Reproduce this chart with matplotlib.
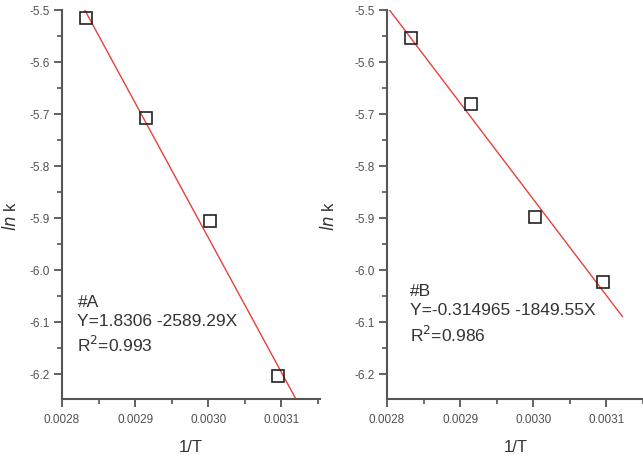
import matplotlib
matplotlib.use("Agg")
import matplotlib.pyplot as plt
from matplotlib.ticker import MultipleLocator, FixedLocator
import numpy as np

plt.rcParams['font.family'] = ['Liberation Sans', 'DejaVu Sans']

# Data
inv_T = [0.002833, 0.002915, 0.003003, 0.003096]
lnk_A = [-5.515, -5.708, -5.906, -6.204]
lnk_B = [-5.554, -5.681, -5.898, -6.023]
fit_A = (1.8306, -2589.29)
fit_B = (-0.314965, -1849.55)
labels = ["#A\nY=1.8306 -2589.29X\nR$^2$=0.993",
          "#B\nY=-0.314965 -1849.55X\nR$^2$=0.986"]
x_ticks = [0.0028, 0.0029, 0.0030, 0.0031]
x_tick_labels = ["0.0028", "0.0029", "0.0030", "0.0031"]
y_ticks = [-5.5, -5.6, -5.7, -5.8, -5.9, -6.0, -6.1, -6.2]
fit_range = (0.00279, 0.003122)

W, H = 643, 458
fig = plt.figure(figsize=(W/100, H/100), dpi=100)

panels = [
    (62, lnk_A, fit_A, labels[0], 10, (0.06, 0.267)),
    (387, lnk_B, fit_B, labels[1], 328, (0.09, 0.295)),
]
for left_px, ys, (b0, b1), lab, ylab_px, tpos in panels:
    ax = fig.add_axes([left_px/W, 1-399/H, 258/W, (399-10)/H])
    xf = np.array(fit_range)
    ax.plot(xf, b0 + b1*xf, color='#e8403a', lw=1.0, zorder=2)
    ax.plot(inv_T, ys, linestyle='none', marker='s', markersize=9,
            markerfacecolor='none', markeredgecolor='#222222', markeredgewidth=1.2, zorder=3)
    ax.set_xlim(0.0028, 0.003153)
    ax.set_ylim(-6.248, -5.5)
    for s in ['top', 'right']:
        ax.spines[s].set_visible(False)
    for s in ['left', 'bottom']:
        ax.spines[s].set_color('#555555')
        ax.spines[s].set_linewidth(1.5)
    ax.xaxis.set_major_locator(FixedLocator(x_ticks))
    ax.set_xticklabels(x_tick_labels)
    ax.xaxis.set_minor_locator(MultipleLocator(0.00005))
    ax.yaxis.set_major_locator(FixedLocator(y_ticks))
    ax.set_yticklabels([f"{v:.1f}" for v in y_ticks])
    ax.yaxis.set_minor_locator(MultipleLocator(0.05))
    ax.tick_params(which='major', length=6, width=1.3, color='#555555',
                   labelsize=8.5, labelcolor='#505050', direction='out', pad=2.5)
    ax.tick_params(axis='x', which='major', pad=5)
    ax.tick_params(which='minor', length=3.5, width=1.2, color='#555555', direction='out')
    ax.set_xlabel("1/T", fontsize=12, color='#333333', labelpad=10)
    ax.text(tpos[0], tpos[1], lab, transform=ax.transAxes, fontsize=12.5,
            color='#333333', va='top', ha='left', linespacing=1.35)
    fig.text(ylab_px/W, 1-216/H, "$\\mathit{ln}$ k", rotation=90, fontsize=12,
             color='#333333', ha='center', va='center')

fig.savefig("out.png", dpi=100)
